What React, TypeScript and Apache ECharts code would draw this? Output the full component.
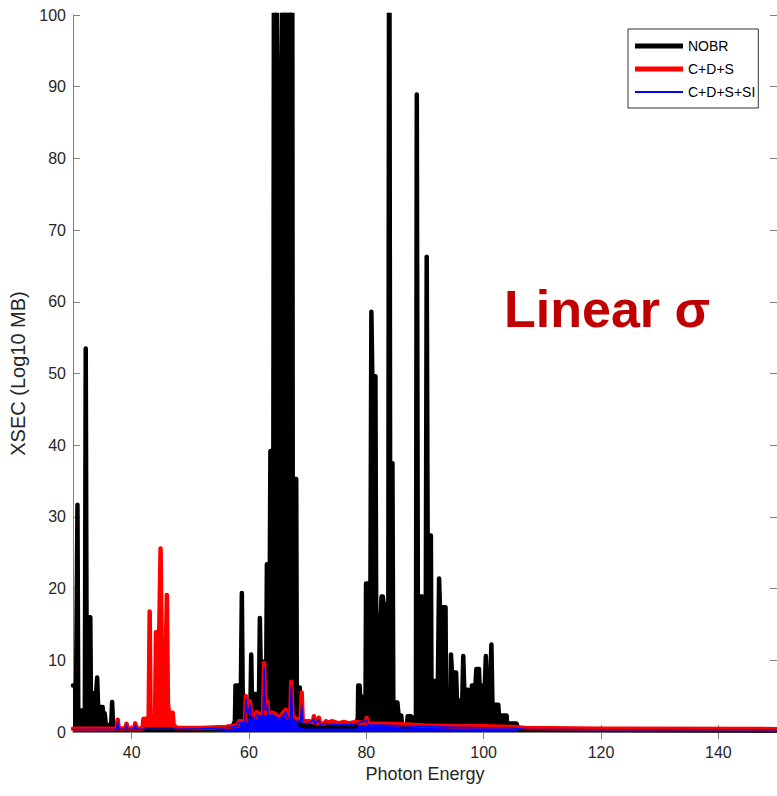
import React, { useEffect, useRef } from "react";
import * as echarts from "echarts";

// ---- tick labels ----
const xTicks = [40, 60, 80, 100, 120, 140];
const yTicks = [0, 10, 20, 30, 40, 50, 60, 70, 80, 90, 100];
const legendNames = ["NOBR", "C+D+S", "C+D+S+SI"];

// ---- NOBR (black) envelope ----
const nobrLeft: [number, number][] = [
  [30.0, 6.5], [30.35, 6.5], [30.5, 3.0], [30.62, 3.0], [30.76, 31.7], [30.9, 3.0],
  [32.02, 3.0], [32.17, 53.5], [32.3, 16.0], [32.95, 16.0], [33.05, 5.4], [33.95, 5.4],
  [34.12, 7.6], [34.28, 3.5], [35.05, 3.5], [35.2, 1.2], [35.4, 2.6], [35.6, 1.0],
  [36.5, 0.9], [36.67, 4.2], [36.85, 0.6], [37.3, 0.3],
];
const nobrBase: [number, number][] = [
  [40, 0.3], [45, 0.3], [50, 0.35], [55, 0.5],
];
const nobrMid: [number, number][] = [
  [57.2, 0.8], [57.6, 1.5], [57.7, 6.5], [58.62, 6.5], [58.78, 19.4], [58.92, 6.0],
  [59.1, 2.2], [60.1, 2.2], [60.25, 4.0], [60.38, 10.8], [60.5, 4.5], [61.0, 5.3],
  [61.5, 5.3], [61.7, 4.5], [61.85, 15.9], [61.98, 9.8], [62.95, 9.8], [63.05, 23.4],
  [63.55, 23.4], [63.65, 39.2], [64.15, 39.2], [64.28, 130], [64.45, 130], [65.21, 49.6],
  [65.85, 130], [66.42, 130], [66.65, 79.8], [66.92, 130], [67.36, 130], [67.45, 35.3],
  [68.05, 35.3], [68.15, 6.2], [68.65, 6.2], [68.78, 1.0], [69.5, 0.8], [74, 0.8], [78.2, 0.8],
];
const nobrRight: [number, number][] = [
  [78.55, 2.0], [78.62, 6.5], [78.85, 6.5], [78.95, 5.0], [79.15, 5.0], [79.3, 2.0],
  [79.85, 2.0], [79.95, 20.7], [80.7, 20.7], [80.86, 58.6], [81.02, 49.6], [81.55, 49.6],
  [81.68, 16.2], [82.45, 16.2], [82.6, 18.9], [82.8, 18.9], [82.95, 17.8], [83.75, 17.8],
  [83.9, 130], [84.05, 37.5], [84.45, 37.5], [84.6, 4.1], [85.3, 4.1], [85.5, 2.3],
  [85.95, 2.3], [86.1, 0.8], [86.9, 0.8], [87.05, 2.2], [87.6, 2.2], [87.8, 2.0],
  [88.45, 2.0], [88.6, 88.9], [88.78, 18.9], [89.5, 18.9], [89.6, 6.0], [90.1, 6.0],
  [90.29, 66.3], [90.45, 27.4], [91.0, 27.4], [91.1, 7.1], [92.2, 7.1], [92.4, 21.4],
  [92.55, 17.4], [93.5, 17.4], [93.6, 3.0], [94.3, 3.0], [94.43, 10.8], [94.6, 8.3],
  [95.3, 8.3], [95.45, 4.4], [96.35, 4.4], [96.52, 10.6], [96.7, 5.9], [97.3, 5.9],
  [97.4, 4.7], [97.9, 4.7], [98.0, 6.5], [98.6, 6.5], [98.75, 8.8], [99.2, 8.8],
  [99.3, 6.5], [100.2, 6.5], [100.37, 10.6], [100.5, 6.5], [101.1, 6.5], [101.32, 12.2],
  [101.5, 3.8], [102.5, 3.8], [102.6, 2.3], [103.9, 2.3], [104.0, 1.2], [105.6, 1.2],
  [105.9, 0.4], [110, 0.3], [150, 0.2],
];

// ---- C+D+S (red) envelope ----
const cdsLeft: [number, number][] = [
  [30, 0.45], [37.45, 0.5], [37.62, 1.7], [37.8, 0.5], [38.95, 0.5], [39.12, 1.15],
  [39.3, 0.5], [40.45, 0.5], [40.62, 1.2], [40.8, 0.5], [41.85, 0.5], [42.0, 1.8],
  [42.9, 1.9], [43.07, 16.8], [43.22, 2.2], [44.0, 2.4], [44.15, 13.9], [44.7, 13.9],
  [44.93, 25.6], [45.15, 9.5], [45.8, 9.5], [46.0, 19.1], [46.18, 4.0], [46.35, 2.7],
  [47.0, 2.7], [47.15, 1.0], [47.7, 0.55], [52, 0.55], [56, 0.7],
];
const cdsMid: [number, number][] = [
  [58.0, 0.9], [58.3, 1.5], [59.3, 1.5], [59.48, 5.0], [59.7, 3.0], [59.95, 3.0],
  [60.15, 4.3], [60.35, 2.5], [61.05, 2.0], [61.3, 2.8], [61.7, 2.5], [62.4, 2.6],
  [62.58, 9.6], [62.75, 3.5], [63.0, 3.5], [63.14, 4.3], [63.3, 2.5], [63.94, 2.7],
  [64.45, 2.5], [65.13, 2.0], [65.64, 2.5], [66.27, 3.1], [66.65, 2.0], [67.05, 2.3],
  [67.21, 7.0], [67.4, 2.3], [68.0, 1.8], [68.8, 1.8], [68.98, 5.5], [69.15, 1.5],
  [70.2, 1.5], [70.9, 1.4], [71.07, 2.2], [71.25, 1.3], [71.75, 1.3], [71.91, 2.0],
  [72.1, 1.2], [72.9, 1.2], [73.1, 1.5], [73.6, 1.3], [74.12, 1.5], [75.3, 1.2],
  [76.16, 1.4], [77.0, 1.2], [78.2, 1.4],
];
const cdsRight: [number, number][] = [
  [79.0, 1.3], [79.9, 1.3], [80.06, 2.0], [80.25, 1.2], [85, 1.1], [90, 0.9],
  [95, 0.8], [100, 0.8], [105, 0.7], [107, 0.55], [120, 0.45], [150, 0.4],
];

// ---- C+D+S+SI (blue) envelope ----
const cdssiLeft: [number, number][] = [
  [30, 0.35], [37.45, 0.35], [37.62, 1.4], [37.8, 0.4], [38.95, 0.4], [39.12, 0.95],
  [39.3, 0.4], [40.45, 0.4], [40.62, 1.0], [40.8, 0.4], [47, 0.4], [52, 0.45], [56, 0.6],
];
const cdssiMid: [number, number][] = [
  [58.0, 0.8], [58.3, 1.3], [59.3, 1.3], [59.48, 4.6], [59.7, 2.7], [59.95, 2.7],
  [60.15, 3.9], [60.35, 2.2], [61.05, 1.8], [61.3, 2.5], [61.7, 2.2], [62.4, 2.3],
  [62.58, 9.0], [62.75, 3.1], [63.0, 3.1], [63.14, 3.9], [63.3, 2.2], [63.94, 2.4],
  [64.45, 2.2], [65.13, 1.8], [65.64, 2.2], [66.27, 2.8], [66.65, 1.8], [67.05, 2.0],
  [67.21, 6.5], [67.4, 2.0], [68.0, 1.5], [68.8, 1.5], [68.98, 3.8], [69.15, 1.2],
  [70.2, 1.2], [71.07, 1.8], [71.25, 1.1], [71.91, 1.7], [72.1, 1.0], [73.1, 1.2],
  [75, 1.0], [78.2, 1.1],
];
const cdssiRight: [number, number][] = [
  [80.06, 1.6], [80.25, 1.0], [85, 0.9], [90, 0.75], [95, 0.65], [100, 0.6],
  [105, 0.55], [107, 0.4], [120, 0.33], [150, 0.3],
];

const nobr = [...nobrLeft, ...nobrBase, ...nobrMid, ...nobrRight];
const cds = [...cdsLeft, ...cdsMid, ...cdsRight];
const cdssi = [...cdssiLeft, ...cdssiMid, ...cdssiRight];

const FONT = "'Liberation Sans', Arial, Helvetica, sans-serif";
const AXIS_GRAY = "#808080";
const LABEL = "#262626";
const COLORS = ["#000000", "#ff0000", "#0000ff"];
const LEGEND_WIDTHS = [5, 5, 2];

export default function App() {
  const ref = useRef<HTMLDivElement>(null);
  useEffect(() => {
    if (!ref.current) return;
    const chart = echarts.init(ref.current, undefined, { renderer: "svg" });
    const tickBase = { inside: true, length: 7, lineStyle: { color: AXIS_GRAY, width: 1 } };

    // legend layout
    const legLeft = 628;
    const legTop = 29;
    const padTop = 10;
    const itemH = 14;
    const itemGap = 9;
    const iconX = legLeft + 7;
    const iconW = 48;

    const legendLines = legendNames.map((_, i) => {
      const cy = legTop + padTop + i * (itemH + itemGap) + itemH / 2;
      return {
        type: "line",
        z: 200,
        shape: { x1: iconX, y1: cy, x2: iconX + iconW, y2: cy },
        style: { stroke: COLORS[i], lineWidth: LEGEND_WIDTHS[i] },
        silent: true,
      };
    });

    const option: any = {
      animation: false,
      backgroundColor: "#fff",
      grid: { left: 73, top: 15, right: -2, bottom: 64, containLabel: false },
      legend: {
        orient: "vertical",
        left: legLeft,
        top: legTop,
        padding: [padTop, 3, 9, 7],
        itemGap: itemGap,
        itemWidth: iconW,
        itemHeight: itemH,
        backgroundColor: "#fff",
        borderColor: "#333",
        borderWidth: 1,
        borderRadius: 0,
        textStyle: { fontFamily: FONT, fontSize: 14, color: "#000" },
        data: legendNames.map((n) => ({
          name: n,
          icon: "rect",
          itemStyle: { color: "rgba(255,255,255,0)", borderWidth: 0 },
        })),
      },
      xAxis: [
        {
          type: "value",
          min: 30,
          max: 150,
          name: "Photon Energy",
          nameLocation: "middle",
          nameGap: 32,
          nameTextStyle: { fontFamily: FONT, fontSize: 18, color: LABEL },
          axisLine: { show: true, lineStyle: { color: AXIS_GRAY, width: 1 } },
          axisTick: { ...tickBase, customValues: xTicks },
          axisLabel: {
            customValues: xTicks,
            fontFamily: FONT,
            fontSize: 16,
            color: LABEL,
            margin: 12,
          },
          splitLine: { show: false },
        },
        {
          type: "value",
          position: "top",
          min: 30,
          max: 150,
          axisLine: { show: true, lineStyle: { color: AXIS_GRAY, width: 1 } },
          axisTick: { ...tickBase, customValues: xTicks },
          axisLabel: { show: false },
          splitLine: { show: false },
        },
      ],
      yAxis: [
        {
          type: "value",
          min: 0,
          max: 100,
          interval: 10,
          name: "XSEC (Log10 MB)",
          nameLocation: "middle",
          nameGap: 41,
          nameTextStyle: { fontFamily: FONT, fontSize: 20, color: LABEL },
          axisLine: { show: true, lineStyle: { color: AXIS_GRAY, width: 1 } },
          axisTick: { ...tickBase, customValues: yTicks },
          axisLabel: {
            customValues: yTicks,
            fontFamily: FONT,
            fontSize: 16,
            color: LABEL,
            margin: 7,
          },
          splitLine: { show: false },
        },
        {
          type: "value",
          position: "right",
          min: 0,
          max: 100,
          interval: 10,
          axisLine: { show: true, lineStyle: { color: AXIS_GRAY, width: 1 } },
          axisTick: { ...tickBase, customValues: yTicks },
          axisLabel: { show: false },
          splitLine: { show: false },
        },
      ],
      series: [
        {
          name: "NOBR",
          type: "line",
          xAxisIndex: 0,
          yAxisIndex: 0,
          data: nobr,
          symbol: "none",
          clip: true,
          color: COLORS[0],
          lineStyle: { color: COLORS[0], width: 4.5, cap: "round", join: "round" },
          areaStyle: { color: COLORS[0], opacity: 1 },
        },
        {
          name: "C+D+S",
          type: "line",
          xAxisIndex: 0,
          yAxisIndex: 0,
          data: cds,
          symbol: "none",
          clip: true,
          color: COLORS[1],
          lineStyle: { color: COLORS[1], width: 4.5, cap: "round", join: "round" },
          areaStyle: { color: COLORS[1], opacity: 1 },
        },
        {
          name: "C+D+S+SI",
          type: "line",
          xAxisIndex: 0,
          yAxisIndex: 0,
          data: cdssi,
          symbol: "none",
          clip: true,
          color: COLORS[2],
          lineStyle: { color: COLORS[2], width: 1.5, cap: "round", join: "round" },
          areaStyle: { color: COLORS[2], opacity: 1 },
        },
      ],
      graphic: [
        ...legendLines,
        {
          type: "text",
          left: 504,
          top: 283,
          z: 100,
          style: {
            text: "Linear σ",
            fontFamily: FONT,
            fontSize: 52,
            fontWeight: "bold",
            fill: "#c00000",
          },
        },
      ],
    };
    chart.setOption(option);
    return () => chart.dispose();
  }, []);
  return (
    <div
      ref={ref}
      style={{ position: "absolute", left: 0, top: 0, width: 777, height: 796, overflow: "hidden" }}
    />
  );
}
